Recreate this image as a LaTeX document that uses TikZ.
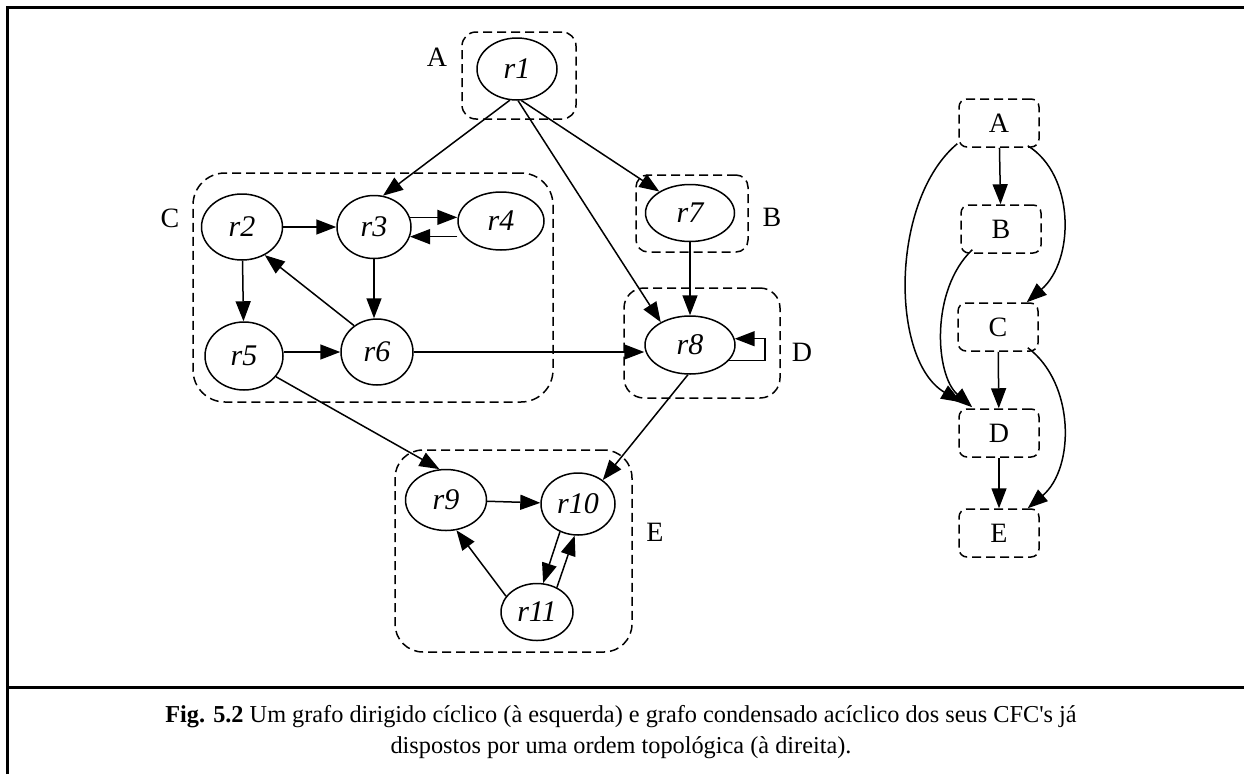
\documentclass[tikz,border=0pt]{standalone}
\usepackage{fontspec}
\setmainfont{Liberation Serif}[Ligatures=TeXOff]
\usetikzlibrary{shapes.geometric,arrows.meta,calc}

\begin{document}
\begin{tikzpicture}[x=1pt,y=-1pt,
  every node/.style={font=\fontsize{28}{32}\selectfont},
  state/.style={ellipse,draw,line width=1.5pt,inner sep=0pt,
    font=\fontsize{30}{32}\selectfont\itshape},
  edge/.style={line width=1.5pt,-{Triangle[length=20pt,width=15pt]}},
  cluster/.style={draw,rectangle,line width=1.5pt,dash pattern=on 9pt off 5pt,inner sep=0pt},
  comp/.style={draw,rectangle,rounded corners=8pt,line width=1.5pt,
    dash pattern=on 9pt off 5pt,minimum width=80pt,minimum height=48pt,inner sep=0pt},
  lbl/.style={inner sep=0pt},
  frame/.style={line width=3pt}
]
\useasboundingbox (0,0) rectangle (1244,774);

% outer frame and caption divider
\draw[frame] (7.5,774) -- (7.5,7.5) -- (1244,7.5);
\draw[frame] (7.5,687) -- (1244,687);

% strongly connected components (clusters)
\node[cluster,rounded corners=14pt,minimum width=114pt,minimum height=87pt] (cA) at (519,75.5) {};
\node[cluster,rounded corners=32pt,minimum width=360pt,minimum height=229pt] (cC) at (373,287.5) {};
\node[cluster,rounded corners=12pt,minimum width=112pt,minimum height=77pt] (cB) at (692,213.5) {};
\node[cluster,rounded corners=20pt,minimum width=156pt,minimum height=110pt] (cD) at (702,343) {};
\node[cluster,rounded corners=28pt,minimum width=237pt,minimum height=202pt] (cE) at (513.5,551) {};

\node[lbl] (lA) at (437,57) {A};
\node[lbl] (lC) at (170,218) {C};
\node[lbl] (lB) at (772,217) {B};
\node[lbl] (lD) at (802,352) {D};
\node[lbl] (lE) at (655,532) {E};

% vertices
\node[state,minimum width=80pt,minimum height=62pt] (r1) at (517,69) {r1};
\node[state,minimum width=81pt,minimum height=66pt] (r2) at (242,227) {r2};
\node[state,minimum width=74pt,minimum height=63pt] (r3) at (374,227) {r3};
\node[state,minimum width=86pt,minimum height=58pt] (r4) at (501,221) {r4};
\node[state,minimum width=78pt,minimum height=68pt] (r5) at (244,356) {r5};
\node[state,minimum width=72pt,minimum height=66pt] (r6) at (377,352) {r6};
\node[state,minimum width=89pt,minimum height=57pt] (r7) at (690,213) {r7};
\node[state,minimum width=90pt,minimum height=58pt] (r8) at (690,345) {r8};
\node[state,minimum width=81pt,minimum height=61pt] (r9) at (446,500) {r9};
\node[state,minimum width=74pt,minimum height=62pt] (r10) at (578,504) {r10};
\node[state,minimum width=72pt,minimum height=57pt] (r11) at (537,612) {r11};

% edges of the cyclic graph
\draw[edge] (r1.257) -- (r3.74);
\draw[edge] (r1.-88) -- (r8.142);
\draw[edge] (r1.-82) -- (r7.145);
\draw[edge] (r2) -- (r3);
\draw[edge] (r3.15) -- (r3.15 -| r4.west);
\draw[edge] (r4.west |- r3.-15) -- (r3.-15);
\draw[edge] (r3) -- (r3 |- r6.north);
\draw[edge] (r2) -- (r5);
\draw[edge] (r6.131) -- (r2.309);
\draw[edge] (r5.east |- r6) -- (r6);
\draw[edge] (r6.east) -- (r8.west |- r6.east);
\draw[edge] (r7) -- (r8);
\draw[edge] (r8.-22) -- ++(36,0) |- (r8.8);
\draw[edge] (r5.-33) -- (r9.102);
\draw[edge] (r8.-94) -- (r10.44);
\draw[edge] (r9) -- (r10);
\draw[edge] (r11.153) -- (r9.-71);
\draw[edge] (r10.-123) -- (r11.78);
\draw[edge] (r11.51) -- (r10.-96);

% condensed acyclic graph
\node[comp] (dA) at (999,123) {A};
\node[comp] (dB) at (1001,229) {B};
\node[comp] (dC) at (998,327) {C};
\node[comp] (dD) at (999,433) {D};
\node[comp] (dE) at (999,533) {E};

\draw[edge] (dA) -- (dB);
\draw[edge] (dC) -- (dD);
\draw[edge] (dD) -- (dE);
\draw[edge] ([xshift=-12pt,yshift=2pt]dA.south east) .. controls (1075,175) and (1075,260) .. ([xshift=-12pt]dC.north east);
\draw[edge] ([xshift=-1pt,yshift=4pt]dA.south west) .. controls (890,200) and (890,360) .. ([xshift=3pt,yshift=6pt]dD.north west);
\draw[edge] ([xshift=12pt,yshift=4pt]dB.south west) .. controls (930,290) and (935,375) .. ([xshift=14pt,yshift=1pt]dD.north west);
\draw[edge] ([xshift=-11pt,yshift=4pt]dC.south east) .. controls (1075,383) and (1075,468) .. ([xshift=-12pt]dE.north east);

% caption
\node[align=center,font=\fontsize{24.3}{31}\selectfont] (cap) at (621,732)
  {\textbf{Fig. 5.2} Um grafo dirigido cíclico (à esquerda) e grafo condensado acíclico dos seus CFC's já\\
   dispostos por uma ordem topológica (à direita).};
\end{tikzpicture}
\end{document}
